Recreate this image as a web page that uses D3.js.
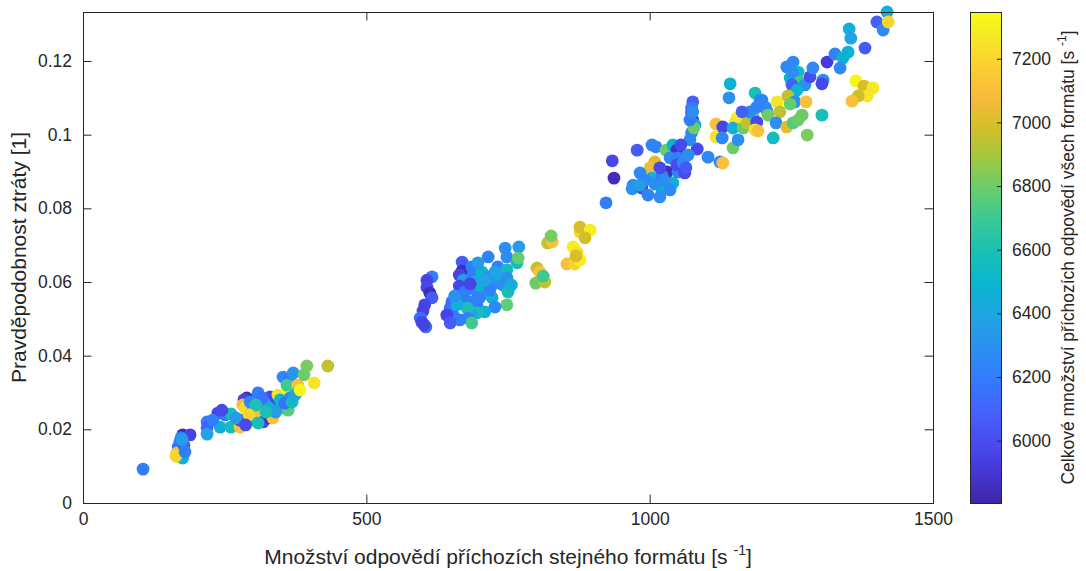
<!DOCTYPE html>
<html>
<head>
<meta charset="utf-8">
<script src="https://cdn.jsdelivr.net/npm/d3@7"></script>
<style>
  html, body { margin: 0; padding: 0; background: #fff; }
  svg { display: block; }
  text { font-family: "Liberation Sans", Arial, Helvetica, sans-serif; fill: #262626; }
</style>
</head>
<body>
<svg id="chart" width="1086" height="571"></svg>
<script>
// Response rate of the same format [1/s]
const rateSame = [
  // low-load cluster
  106,176,189,171,168,175,166,168,176,178,164,173,219,219,219,238,242,251,261,261,
  277,277,289,284,282,286,298,298,300,295,309,312,312,318,330,335,330,339,344,351,
  362,362,365,353,365,371,360,379,378,390,395,408,432,321,326,333,340,348,356,316,
  305,293,270,229,245,369,374,323,309,287,383,175,180,
  // medium-load cluster
  616,607,607,612,616,603,600,595,598,605,602,669,669,664,671,664,686,688,692,686,
  695,671,686,695,704,713,704,715,718,727,732,736,741,748,748,750,748,745,748,766,
  769,768,722,727,709,695,686,678,679,686,665,653,648,651,642,648,660,674,700,718,
  709,697,727,683,656,756,
  // transition cluster
  801,806,799,815,812,820,828,826,865,877,877,895,886,872,865,854,868,877,870,
  // high-load cluster
  934,937,923,978,1004,1011,1029,1041,1048,1084,1103,1124,1129,1147,1156,1009,1001,983,971,969,
  986,997,1022,1004,1009,1031,1022,1041,1050,1062,1036,1050,1048,1025,992,1076,1074,1074,1076,1080,
  1074,1078,1071,1117,1117,1129,1128,1142,1140,1154,1151,1147,1165,1172,1182,1177,1189,1186,1191,1186,
  1198,1204,1207,1189,1209,1218,1225,1230,1223,1242,1253,1262,1269,1278,1304,1242,1253,1248,1262,1253,
  1265,1274,1251,1260,1253,1244,1256,1248,1276,1283,1288,1306,1304,1313,1327,1341,1350,1336,1352,1355,
  1380,1401,1412,1419,1421,1364,1378,1394,1384,1368,1357,1059,1068,1055,1064,1018,1036,1018,983,1071,
  1076,1163,1195
];

// Loss probability [1]
const lossProb = [
  0.0092,0.0185,0.0185,0.0166,0.0152,0.0144,0.0136,0.0125,0.0122,0.0157,0.0128,0.0177,0.0220,0.0204,0.0187,0.0244,0.0206,0.0239,0.0242,0.0206,
  0.0206,0.0225,0.0285,0.0280,0.0266,0.0258,0.0247,0.0225,0.0231,0.0274,0.0299,0.0271,0.0244,0.0220,0.0231,0.0231,0.0288,0.0261,0.0293,0.0258,
  0.0252,0.0301,0.0285,0.0342,0.0339,0.0353,0.0320,0.0320,0.0301,0.0348,0.0372,0.0326,0.0372,0.0271,0.0261,0.0252,0.0247,0.0280,0.0271,0.0285,
  0.0266,0.0239,0.0231,0.0225,0.0252,0.0274,0.0293,0.0247,0.0217,0.0212,0.0307,0.0171,0.0139,
  0.0614,0.0605,0.0586,0.0570,0.0557,0.0538,0.0521,0.0502,0.0491,0.0478,0.0483,0.0654,0.0630,0.0619,0.0605,0.0589,0.0641,0.0619,0.0600,0.0584,
  0.0573,0.0559,0.0546,0.0538,0.0584,0.0570,0.0627,0.0668,0.0614,0.0597,0.0641,0.0614,0.0592,0.0633,0.0611,0.0573,0.0538,0.0692,0.0668,0.0652,
  0.0695,0.0665,0.0557,0.0532,0.0519,0.0516,0.0510,0.0529,0.0502,0.0489,0.0497,0.0510,0.0529,0.0546,0.0510,0.0489,0.0538,0.0573,0.0557,0.0578,
  0.0605,0.0652,0.0627,0.0595,0.0562,0.0592,
  0.0638,0.0627,0.0597,0.0600,0.0616,0.0706,0.0709,0.0725,0.0695,0.0736,0.0749,0.0741,0.0720,0.0681,0.0654,0.0649,0.0649,0.0660,0.0671,
  0.0929,0.0882,0.0815,0.0958,0.0972,0.0967,0.0958,0.0972,0.0958,0.0961,0.0939,0.0926,0.0923,0.0964,0.0986,0.0926,0.0910,0.0896,0.0863,0.0853,
  0.0855,0.0836,0.0850,0.0882,0.0866,0.0899,0.0888,0.0869,0.0899,0.0896,0.0937,0.0937,0.0918,0.0877,0.0877,0.1089,0.1072,0.1059,0.1040,0.1026,
  0.1005,0.1018,0.0986,0.1029,0.0994,0.1021,0.0991,0.1138,0.1100,0.1045,0.1032,0.1018,0.1018,0.1032,0.1053,0.1062,0.1034,0.1013,0.1010,0.1113,
  0.1094,0.1075,0.1064,0.1075,0.1053,0.0991,0.1089,0.1062,0.1032,0.1021,0.1032,0.1040,0.1053,0.0999,0.1053,0.1184,0.1197,0.1154,0.1170,0.1167,
  0.1143,0.1135,0.1135,0.1121,0.1108,0.1105,0.1089,0.1083,0.1089,0.1157,0.1181,0.1148,0.1138,0.1197,0.1219,0.1208,0.1224,0.1181,0.1287,0.1262,
  0.1235,0.1306,0.1284,0.1333,0.1306,0.1146,0.1132,0.1127,0.1105,0.1105,0.1091,0.0923,0.0945,0.0972,0.0910,0.0910,0.0850,0.0831,0.0863,0.1040,
  0.1062,0.1062,0.1094
];

// Total response rate of all formats [1/s]
const rateTotal = [
  6200,5840,5950,6200,6150,5970,7110,7300,6450,6060,7200,6250,6200,6080,6380,5960,6450,6200,6560,6560,
  7110,5980,5860,5960,7080,7220,6750,6800,6380,6250,6200,6200,7100,5970,5850,7110,5970,5960,7260,6480,
  6750,7330,6250,6250,6200,6320,6700,7110,6780,6800,6820,7250,6950,6250,6380,6450,6350,6500,6150,6150,
  6600,7200,6350,6200,5980,6550,6400,6600,6580,5990,7320,6350,6200,
  6200,5960,5970,5850,6060,5960,5950,6150,5970,6150,5950,6060,5850,5960,6350,5970,6200,6200,6380,5990,
  6220,6200,6230,6200,6460,6480,6500,6230,6250,6280,6230,6450,6280,6560,6280,6580,6780,6280,6270,6560,
  6350,6780,6450,6250,6450,6580,6380,6600,6230,6700,6200,6200,6150,6150,5960,6060,6450,6200,6230,6220,
  6380,6350,6380,5960,6300,6450,
  6950,7110,6800,6950,6700,6950,7110,6820,7300,7200,7000,7300,6980,7250,7280,7110,7180,7300,7000,
  5970,5850,6200,6060,6250,6230,6800,6480,5870,5980,6250,6250,7110,6800,6280,7000,7050,6250,6270,6300,
  5970,6230,6480,6450,6280,5850,6200,6470,6220,5990,6250,6220,5990,6280,6250,6080,6200,5990,5960,6450,
  6230,6800,6250,7110,7250,5960,6250,6480,6300,7300,7250,6450,6800,6950,6780,6250,5980,7250,7110,6580,
  6250,6270,6250,6230,6800,6550,7250,6950,6280,7020,6750,6800,6800,6820,6580,6250,6250,6480,6560,6280,
  6700,6300,6080,6450,6480,6950,6280,6780,7110,5990,6250,6250,5970,5920,6230,6480,6480,6250,6450,6380,
  6060,6080,6250,6450,7200,7320,7000,7270,7250,6980,7110,6250,6280,5980,6060,5980,6250,6280,6350,6200,
  6280,6080,6230
];

const xTicks = [0, 500, 1000, 1500];
const xTickLabels = ["0", "500", "1000", "1500"];
const yTicks = [0, 0.02, 0.04, 0.06, 0.08, 0.1, 0.12];
const yTickLabels = ["0", "0.02", "0.04", "0.06", "0.08", "0.1", "0.12"];
const cTicks = [6000, 6200, 6400, 6600, 6800, 7000, 7200];
const cTickLabels = ["6000", "6200", "6400", "6600", "6800", "7000", "7200"];

const xLabel = "Množství odpovědí příchozích stejného formátu [s";
const yLabel = "Pravděpodobnost ztráty [1]";
const cLabel = "Celkové množství příchozích odpovědí všech formátu [s";

// MATLAB parula colormap (every 4th entry of the 64-colour table)
const parula = [
  [0.2422,0.1504,0.6603],[0.2706,0.2147,0.8364],[0.2813,0.3006,0.9414],[0.2699,0.3892,0.9906],
  [0.1963,0.4847,0.9892],[0.1687,0.5703,0.9359],[0.1248,0.6459,0.8883],[0.0297,0.7082,0.8163],
  [0.0964,0.7500,0.7120],[0.2161,0.7843,0.5923],[0.3909,0.8029,0.4354],[0.6174,0.7876,0.2612],
  [0.8203,0.7498,0.1535],[0.9728,0.7298,0.2394],[0.9892,0.8136,0.1885],[0.9597,0.9135,0.1423],
  [0.9769,0.9839,0.0805]
];
const parulaPos = [0,4,8,12,16,20,24,28,32,36,40,44,48,52,56,60,63].map(i => i / 63);
const toCss = c => d3.rgb(c[0] * 255, c[1] * 255, c[2] * 255).formatHex();

const svg = d3.select("#chart");
const W = 1086, H = 571;
const plot = { left: 83, right: 933, top: 12, bottom: 503 };
const cbar = { left: 970, right: 1001, top: 12, bottom: 503 };
const cMin = 5804, cMax = 7347;

svg.append("rect").attr("width", W).attr("height", H).attr("fill", "#fff");

const x = d3.scaleLinear().domain([0, 1500]).range([plot.left, plot.right]);
const y = d3.scaleLinear().domain([0, 0.1333]).range([plot.bottom, plot.top]);
const color = d3.scaleLinear()
  .domain(parulaPos.map(p => cMin + p * (cMax - cMin)))
  .range(parula.map(toCss))
  .interpolate(d3.interpolateRgb)
  .clamp(true);

// scatter points
const pts = rateSame.map((v, i) => ({ x: v, y: lossProb[i], c: rateTotal[i] }));
svg.append("g")
  .selectAll("circle")
  .data(pts)
  .join("circle")
  .attr("cx", d => x(d.x))
  .attr("cy", d => y(d.y))
  .attr("r", 6.4)
  .attr("fill", d => color(d.c));

// axes with inward ticks on all four sides
const tick = 8.5;
const tickFont = 17.5;
const labelFont = 21;
function styleAxis(g) {
  g.select(".domain").remove();
  g.selectAll(".tick line").attr("stroke", "#262626").attr("stroke-width", 1);
  g.selectAll(".tick text").attr("font-size", tickFont).attr("fill", "#262626")
    .attr("font-family", "Liberation Sans, Arial, sans-serif");
}
svg.append("g").attr("transform", `translate(0,${plot.bottom})`)
  .call(d3.axisBottom(x).tickValues(xTicks).tickFormat((d, i) => xTickLabels[i])
    .tickSizeInner(-tick).tickSizeOuter(0).tickPadding(10))
  .call(styleAxis);
svg.append("g").attr("transform", `translate(0,${plot.top})`)
  .call(d3.axisTop(x).tickValues(xTicks).tickFormat("").tickSizeInner(-tick).tickSizeOuter(0))
  .call(styleAxis);
svg.append("g").attr("transform", `translate(${plot.left},0)`)
  .call(d3.axisLeft(y).tickValues(yTicks).tickFormat((d, i) => yTickLabels[i])
    .tickSizeInner(-tick).tickSizeOuter(0).tickPadding(11))
  .call(styleAxis);
svg.append("g").attr("transform", `translate(${plot.right},0)`)
  .call(d3.axisRight(y).tickValues(yTicks).tickFormat("").tickSizeInner(-tick).tickSizeOuter(0))
  .call(styleAxis);

svg.append("rect")
  .attr("x", plot.left + 0.5).attr("y", plot.top + 0.5)
  .attr("width", plot.right - plot.left).attr("height", plot.bottom - plot.top)
  .attr("fill", "none").attr("stroke", "#262626").attr("stroke-width", 1);

// axis titles
const xt = svg.append("text")
  .attr("x", (plot.left + plot.right) / 2).attr("y", 564)
  .attr("text-anchor", "middle").attr("font-size", labelFont);
xt.append("tspan").text(xLabel + " ");
xt.append("tspan").attr("dy", -9).attr("font-size", 14).text("-1");
xt.append("tspan").attr("dy", 9).text("]");

svg.append("text")
  .attr("transform", `translate(26,${(plot.top + plot.bottom) / 2}) rotate(-90)`)
  .attr("text-anchor", "middle").attr("font-size", labelFont)
  .text(yLabel);

// colour bar
const defs = svg.append("defs");
const grad = defs.append("linearGradient").attr("id", "parulaGrad")
  .attr("x1", 0).attr("y1", 1).attr("x2", 0).attr("y2", 0);
grad.selectAll("stop").data(parula).join("stop")
  .attr("offset", (d, i) => parulaPos[i])
  .attr("stop-color", d => toCss(d));

svg.append("rect")
  .attr("x", cbar.left).attr("y", cbar.top)
  .attr("width", cbar.right - cbar.left).attr("height", cbar.bottom - cbar.top)
  .attr("fill", "url(#parulaGrad)");

const cy = d3.scaleLinear().domain([cMin, cMax]).range([cbar.bottom, cbar.top]);
svg.append("g").attr("transform", `translate(${cbar.right},0)`)
  .call(d3.axisRight(cy).tickValues(cTicks).tickFormat((d, i) => cTickLabels[i])
    .tickSizeInner(-4).tickSizeOuter(0).tickPadding(11))
  .call(styleAxis);

svg.append("rect")
  .attr("x", cbar.left + 0.5).attr("y", cbar.top + 0.5)
  .attr("width", cbar.right - cbar.left).attr("height", cbar.bottom - cbar.top)
  .attr("fill", "none").attr("stroke", "#262626").attr("stroke-width", 1);

const ct = svg.append("text")
  .attr("transform", `translate(1074,${(cbar.top + cbar.bottom) / 2}) rotate(-90)`)
  .attr("text-anchor", "middle").attr("font-size", 17.5);
ct.append("tspan").text(cLabel + " ");
ct.append("tspan").attr("dy", -8).attr("font-size", 12).text("-1");
ct.append("tspan").attr("dy", 8).text("]");
</script>
</body>
</html>
